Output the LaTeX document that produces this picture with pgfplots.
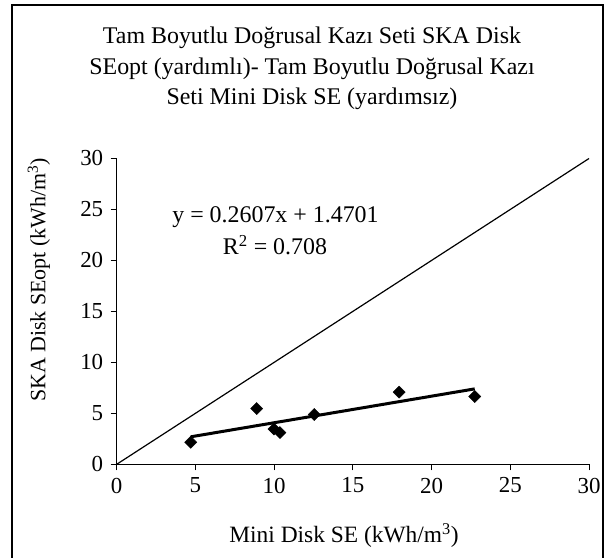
\documentclass[border=0pt]{standalone}
\usepackage{fontspec}
\setmainfont{Liberation Serif}
\usepackage{pgfplots}
\pgfplotsset{compat=1.18}

\begin{document}
\begin{tikzpicture}[x=1bp,y=1bp]
\useasboundingbox (-116.7,-93.7) rectangle (493.3,464.3);
\begin{axis}[
    at={(0,0)}, anchor=south west,
    scale only axis,
    width=472.3bp, height=305.8bp,
    xmin=0, xmax=30, ymin=0, ymax=30,
    xtick={0,5,...,30}, ytick={0,5,...,30},
    axis lines=left,
    axis line style={-, line width=0.9bp},
    tick align=outside,
    major tick length=6bp,
    tick style={black, line width=0.9bp},
    /pgf/number format/assume math mode=true,
    tick label style={font=\fontsize{23}{26}\selectfont},
    yticklabel style={xshift=-4bp},
    xticklabel style={yshift=-4bp},
    clip=false,
]
% y = x reference line
\addplot[black, line width=1.2bp] coordinates {(0,0) (30,30)};
% linear trend
\addplot[black, line width=3bp] coordinates {(4.70,2.695) (22.74,7.398)};
% data
\addplot[only marks, mark=square*, mark size=4.3bp, black,
    every mark/.append style={rotate=45}] coordinates {
    (4.70,2.16) (8.89,5.47) (9.99,3.47) (10.37,3.11)
    (12.55,4.88) (17.94,7.08) (22.74,6.65)
};
\end{axis}

% outer frame
\draw[line width=2bp] (-104.2,-100) -- (-104.2,459.3) -- (486.3,459.3) -- (486.3,-100);

% title
\begin{scope}[every node/.style={font=\fontsize{24}{28}\selectfont, anchor=base, inner sep=0pt}]
\node at (195.3,420.3) {Tam Boyutlu Doğrusal Kazı Seti SKA Disk};
\node at (195.3,389.8) {SEopt (yardımlı)- Tam Boyutlu Doğrusal Kazı};
\node at (195.3,359.3) {Seti Mini Disk SE (yardımsız)};
\end{scope}

% equation
\begin{scope}[every node/.style={font=\fontsize{24}{28}\selectfont, anchor=base, inner sep=0pt}]
\node at (158.8,241.3) {y = 0.2607x + 1.4701};
\node at (158.3,209.3) {R\textsuperscript{2} = 0.708};
\end{scope}

% axis labels
\node[font=\fontsize{23.5}{27}\selectfont, anchor=base, inner sep=0pt] at (227.3,-78.7) {Mini Disk SE (kWh/m\textsuperscript{3})};
\node[font=\fontsize{22}{26}\selectfont, rotate=90, inner sep=0pt] at (-77.7,184.3) {SKA Disk SEopt (kWh/m\textsuperscript{3})};
\end{tikzpicture}
\end{document}
